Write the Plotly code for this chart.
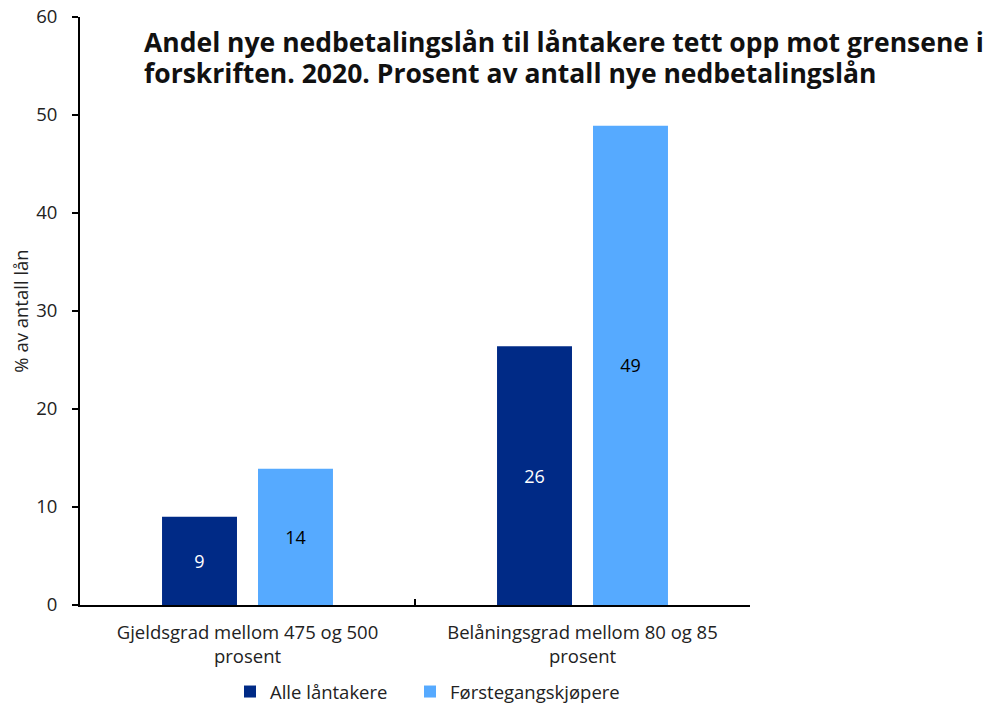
import plotly.graph_objects as go

categories = ["Gjeldsgrad mellom 475 og 500<br>prosent", "Belåningsgrad mellom 80 og 85<br>prosent"]
alle = [9.0, 26.4]
forste = [13.9, 48.9]
alle_labels = ["9", "26"]
forste_labels = ["14", "49"]
yticks = [0, 10, 20, 30, 40, 50, 60]
title_lines = ["Andel nye nedbetalingslån til låntakere tett opp mot grensene i",
               "forskriften. 2020. Prosent av antall nye nedbetalingslån"]

FONT = "Open Sans"
dark = "#002A86"
light = "#56AAFF"
TXT = "#222222"
FS = 18.5

# page has default 8px body margin; figure coords = page coords - 8
OFF = 8
W, Hfig = 1000 - 2 * OFF, 703 - OFF
PLOT_T, PLOT_B, PLOT_L, PLOT_R = 17 - OFF, 605 - OFF, 80 - OFF, 750 - OFF
H = PLOT_B - PLOT_T

def py(page_y):
    return (PLOT_B - (page_y - OFF)) / H

def px(page_x):
    return ((page_x - OFF) - PLOT_L) / (PLOT_R - PLOT_L)

fig = go.Figure()
fig.add_trace(go.Bar(
    x=categories, y=alle, name="Alle låntakere", marker=dict(color=dark, line=dict(width=0)),
    text=alle_labels, textposition="inside", insidetextanchor="middle",
    textfont=dict(color="white", size=18, family=FONT), textangle=0, legend="legend",
))
fig.add_trace(go.Bar(
    x=categories, y=forste, name="Førstegangskjøpere", marker=dict(color=light, line=dict(width=0)),
    text=forste_labels, textposition="inside", insidetextanchor="middle",
    textfont=dict(color="black", size=18, family=FONT), textangle=0, legend="legend2",
))

annotations = []
for line, yc in zip(title_lines, [42, 73]):
    annotations.append(dict(
        text="<b>" + line + "</b>", xref="paper", yref="paper",
        x=px(142), y=py(yc),
        xanchor="left", yanchor="middle", align="left", showarrow=False,
        font=dict(size=26.5, family=FONT, color="#111111"),
    ))

legend_common = dict(orientation="h", xanchor="left", y=py(692), yanchor="middle",
                     font=dict(size=FS, family=FONT, color=TXT), itemwidth=30,
                     bgcolor="rgba(0,0,0,0)")

fig.update_layout(
    width=W, height=Hfig,
    margin=dict(l=PLOT_L, r=W - PLOT_R, t=PLOT_T, b=Hfig - PLOT_B, pad=0, autoexpand=False),
    paper_bgcolor="white", plot_bgcolor="white",
    font=dict(family=FONT, size=FS, color=TXT),
    barmode="group", bargap=0.427, bargroupgap=0.219,
    showlegend=True,
    legend=dict(x=px(230), **legend_common),
    legend2=dict(x=px(410), **legend_common),
    annotations=annotations,
)
fig.update_xaxes(
    showline=True, linecolor="black", linewidth=2, ticks="inside", tickson="boundaries",
    ticklen=6, tickcolor="black", tickwidth=2, showgrid=False, automargin=False,
    ticklabelstandoff=10, ticklabeloverflow="allow",
    tickfont=dict(size=FS, family=FONT, color=TXT),
)
fig.update_yaxes(
    range=[0, 60], tickvals=yticks, showline=True, linecolor="black", linewidth=2,
    ticks="outside", ticklen=6, tickcolor="black", tickwidth=2, showgrid=False, zeroline=False,
    automargin=False, ticklabelstandoff=11, ticklabeloverflow="allow",
    tickfont=dict(size=FS, family=FONT, color=TXT),
    title=dict(text="% av antall lån", font=dict(size=FS, family=FONT, color=TXT), standoff=8),
)

fig.write_html("out.html")
